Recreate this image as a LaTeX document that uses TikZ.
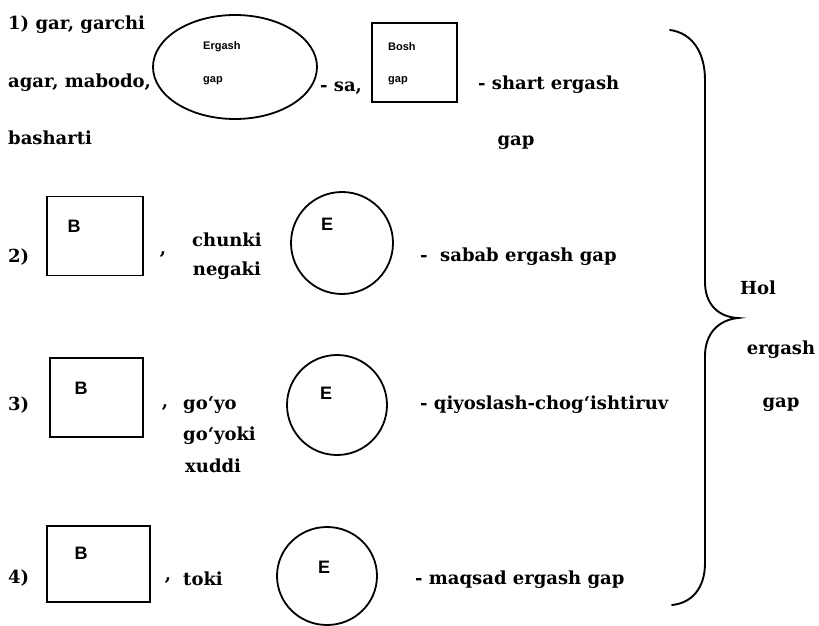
\documentclass[tikz,border=0pt]{standalone}
\usepackage{fontspec}
\setmainfont{DejaVu Serif}
\newfontfamily\labfont{Liberation Sans}
\usetikzlibrary{shapes.geometric}
\begin{document}
\begin{tikzpicture}[x=1pt,y=-1pt,
  txt/.style={font=\bfseries\fontsize{18}{22}\selectfont, inner sep=0pt},
  lab/.style={font=\labfont\bfseries\fontsize{11}{13}\selectfont, inner sep=0pt},
  big/.style={font=\labfont\bfseries\fontsize{18}{20}\selectfont, inner sep=0pt},
  shp/.style={draw, line width=1.8pt, inner sep=0pt},
  brace/.style={draw, line width=1.9pt, line cap=round}]
\useasboundingbox (0,0) rectangle (819,626);
% row 1
\node[txt,anchor=west] (t1a) at (8,25) {1) gar,\ garchi};
\node[txt,anchor=west] (t1b) at (8,83) {agar,\ mabodo,};
\node[txt,anchor=west] (t1c) at (8,138) {basharti};
\node[shp,ellipse,minimum width=164,minimum height=104] (e1) at (235,67) {};
\node[lab,anchor=west] (e1a) at (203,47) {Ergash};
\node[lab,anchor=west] (e1b) at (203,81) {gap};
\node[txt,anchor=west] (sa) at (320,88) {- sa,};
\node[shp,minimum width=85,minimum height=79] (b1) at (414.5,62.5) {};
\node[lab,anchor=west] (b1a) at (388,47) {Bosh};
\node[lab,anchor=west] (b1b) at (388,81) {gap};
\node[txt,anchor=west] (r1) at (478,85) {- shart\ ergash};
\node[txt] (r1g) at (516,143) {gap};
% row 2
\node[txt,anchor=west] (n2) at (8,257) {2)};
\node[shp,minimum width=96,minimum height=79] (b2) at (95,236) {};
\node[big] (b2l) at (74,226) {B};
\node[txt] (c2) at (163,255) {,};
\node[txt] (k2a) at (227,240) {chunki};
\node[txt] (k2b) at (227,271) {negaki};
\node[shp,circle,minimum size=102] (e2) at (342,243) {};
\node[big] (e2l) at (327,224) {E};
\node[txt,anchor=west] (d2) at (420,257) {-\ \ sabab\ ergash\ gap};
% row 3
\node[txt,anchor=west] (n3) at (8,405) {3)};
\node[shp,minimum width=93,minimum height=79] (b3) at (96.5,397.5) {};
\node[big] (b3l) at (81,388) {B};
\node[txt] (c3) at (165,408) {,};
\node[txt,anchor=west] (k3a) at (183,405) {go‘yo};
\node[txt,anchor=west] (k3b) at (183,436) {go‘yoki};
\node[txt,anchor=west] (k3c) at (185,466) {xuddi};
\node[shp,circle,minimum size=100] (e3) at (337,405) {};
\node[big] (e3l) at (326,393) {E};
\node[txt,anchor=west] (d3) at (420,405) {-\ qiyoslash-chog‘ishtiruv};
% row 4
\node[txt,anchor=west] (n4) at (8,578) {4)};
\node[shp,minimum width=103,minimum height=76] (b4) at (98.5,564) {};
\node[big] (b4l) at (81,553) {B};
\node[txt] (c4) at (168,581) {,};
\node[txt,anchor=west] (k4) at (183,579) {toki};
\node[shp,ellipse,minimum width=100,minimum height=98] (e4) at (327,576) {};
\node[big] (e4l) at (324,567) {E};
\node[txt,anchor=west] (d4) at (415,580) {-\ maqsad\ ergash\ gap};
% brace
\path[brace] (670,30) .. controls (692,33) and (705,52) .. (705,80)
  -- (705,282) .. controls (705,304) and (718,317) .. (738,318)
  .. controls (718,320) and (705,334) .. (705,356)
  -- (705,563) .. controls (705,588) and (692,603) .. (672,605);
\node[txt] (h1) at (758,288) {Hol};
\node[txt] (h2) at (781,350) {ergash};
\node[txt] (h3) at (781,405) {gap};
\end{tikzpicture}
\end{document}
